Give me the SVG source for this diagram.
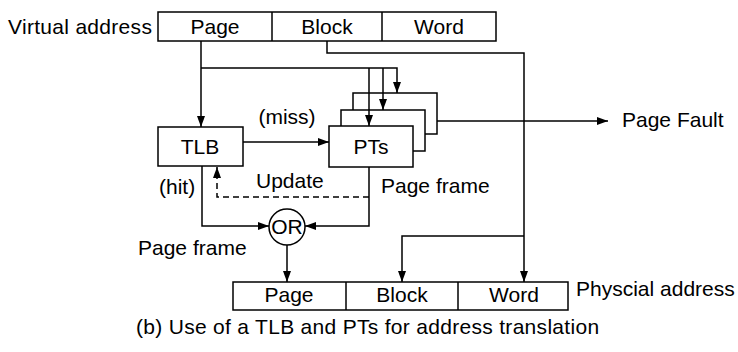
<svg xmlns="http://www.w3.org/2000/svg" width="738" height="352" viewBox="0 0 738 352">
<defs>
<marker id="ah" viewBox="0 0 11 8" refX="11" refY="4" markerWidth="11" markerHeight="8" markerUnits="userSpaceOnUse" orient="auto">
<path d="M0,0 L11,4 L0,8 Z" fill="#000"/>
</marker>
</defs>
<style>
text{font-family:"Liberation Sans",Arial,sans-serif;font-size:21px;fill:#000}
.c{text-anchor:middle}
.box{fill:#fff;stroke:#000;stroke-width:1.5}
.ln{fill:none;stroke:#000;stroke-width:1.5}
.arr{marker-end:url(#ah)}
.dash{stroke-dasharray:6,4}
</style>
<rect width="738" height="352" fill="#fff"/>

<g id="virtual-address">
<rect class="box" x="158" y="12" width="338" height="29"/>
<line class="ln" x1="272" y1="12" x2="272" y2="41"/>
<line class="ln" x1="382" y1="12" x2="382" y2="41"/>
<text x="8" y="34" style="letter-spacing:0.3px">Virtual address</text>
<text class="c" x="215" y="34">Page</text>
<text class="c" x="327" y="34">Block</text>
<text class="c" x="439" y="34">Word</text>
</g>

<g id="tlb">
<rect class="box" x="158" y="127" width="85" height="39"/>
<text class="c" x="200" y="154">TLB</text>
</g>

<g id="pts">
<rect class="box" x="353" y="93" width="84" height="41"/>
<rect class="box" x="341" y="110" width="84" height="41"/>
<rect class="box" x="329" y="126" width="84" height="41"/>
<text class="c" x="371" y="154">PTs</text>
</g>

<g id="or">
<circle class="box" cx="287" cy="227" r="18"/>
<text class="c" x="287" y="234">OR</text>
</g>

<g id="physical-address">
<rect class="box" x="233" y="282" width="335" height="28"/>
<line class="ln" x1="346" y1="282" x2="346" y2="310"/>
<line class="ln" x1="458" y1="282" x2="458" y2="310"/>
<text class="c" x="289" y="302">Page</text>
<text class="c" x="402" y="302">Block</text>
<text class="c" x="514" y="302">Word</text>
<text x="576" y="296">Physcial address</text>
</g>

<g id="connectors">
<path class="ln arr" d="M201,41 V127"/>
<path class="ln arr" d="M201,68 H397 V93"/>
<path class="ln arr" d="M383,68 V110"/>
<path class="ln arr" d="M369,68 V126"/>
<path class="ln arr" d="M327,41 V53 H524 V282"/>
<path class="ln arr" d="M524,236 H402 V282"/>
<path class="ln arr" d="M437,121 H608"/>
<path class="ln arr" d="M243,142 H329"/>
<path class="ln arr" d="M202,166 V226 H269"/>
<path class="ln arr" d="M369,167 V226 H305"/>
<path class="ln dash arr" d="M369,197 H217 V167"/>
<path class="ln arr" d="M287,245 V282"/>
</g>

<g id="labels">
<text class="c" x="287" y="124">(miss)</text>
<text x="622" y="127">Page Fault</text>
<text x="159" y="194">(hit)</text>
<text x="256" y="188">Update</text>
<text x="381" y="193">Page frame</text>
<text x="138" y="255">Page frame</text>
<text x="136" y="334" style="letter-spacing:0.3px">(b) Use of a TLB and PTs for address translation</text>
</g>
</svg>
